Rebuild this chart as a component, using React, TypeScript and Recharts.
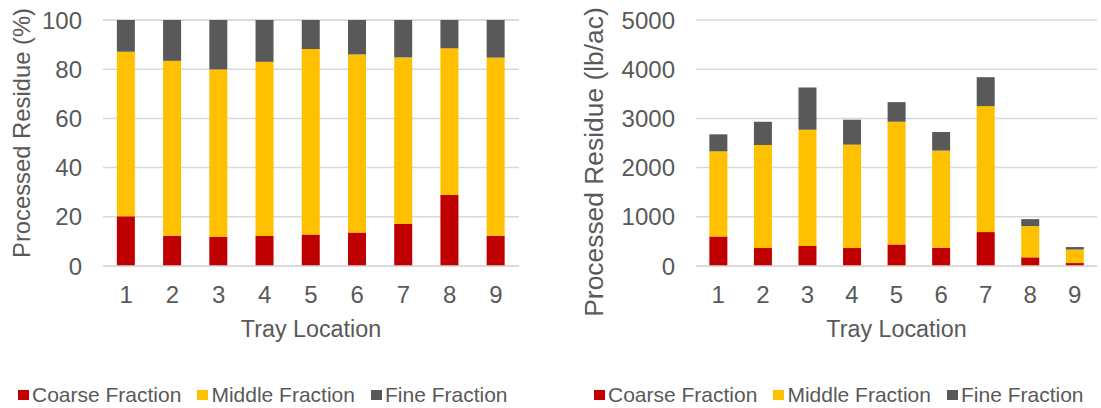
import { BarChart, Bar, XAxis, YAxis, CartesianGrid, Legend } from "recharts";

const trays = ["1", "2", "3", "4", "5", "6", "7", "8", "9"];

// share of each fraction (%)
const pctCoarse = [20.2, 12.3, 11.8, 12.2, 12.8, 13.6, 17.1, 28.9, 12.3];
const pctMiddle = [66.9, 71.1, 68.1, 70.8, 75.4, 72.4, 67.7, 59.6, 72.4];
const pctFine = [12.9, 16.6, 20.1, 17.0, 11.8, 14.0, 15.2, 11.5, 15.3];

// mass of each fraction (lb/ac)
const lbCoarse = [601, 365, 405, 365, 439, 372, 689, 176, 60];
const lbMiddle = [1730, 2094, 2365, 2101, 2493, 1973, 2561, 635, 275];
const lbFine = [345, 473, 858, 507, 399, 378, 588, 142, 50];

const pctTicks = [0, 20, 40, 60, 80, 100];
const lbTicks = [0, 1000, 2000, 3000, 4000, 5000];

const FONT = "Arial, 'Liberation Sans', sans-serif";
const TEXT = "#595959";
const GRID = "#D9D9D9";

// legend / stacking order, bottom to top
const series = [
  { key: "coarse", name: "Coarse Fraction", color: "#C00000" },
  { key: "middle", name: "Middle Fraction", color: "#FFC000" },
  { key: "fine", name: "Fine Fraction", color: "#595959" },
];

const pctData = trays.map((tray, i) => ({
  tray,
  coarse: pctCoarse[i],
  middle: pctMiddle[i],
  fine: pctFine[i],
}));

const lbData = trays.map((tray, i) => ({
  tray,
  coarse: lbCoarse[i],
  middle: lbMiddle[i],
  fine: lbFine[i],
}));

const LegendRow = () => (
  <div
    style={{
      display: "flex",
      alignItems: "center",
      height: 26,
      fontFamily: FONT,
      fontSize: 21,
      color: TEXT,
      whiteSpace: "nowrap",
    }}
  >
    {series.map((s) => (
      <div key={s.key} style={{ display: "flex", alignItems: "center", marginRight: 16 }}>
        <span style={{ width: 11, height: 10, background: s.color, marginRight: 3, display: "inline-block" }} />
        <span>{s.name}</span>
      </div>
    ))}
  </div>
);

const xTitle = (props: any) => {
  const vb = props.viewBox;
  return (
    <text
      x={vb.x + vb.width / 2}
      y={vb.y + 71}
      textAnchor="middle"
      fill={TEXT}
      fontFamily={FONT}
      fontSize={23.3}
    >
      Tray Location
    </text>
  );
};

const yTitle = (text: string, baseX: number, shiftY: number, size: number) => (props: any) => {
  const vb = props.viewBox;
  const x = vb.x + baseX;
  const y = vb.y + vb.height / 2 + shiftY;
  return (
    <text
      x={x}
      y={y}
      transform={`rotate(-90, ${x}, ${y})`}
      textAnchor="middle"
      fill={TEXT}
      fontFamily={FONT}
      fontSize={size}
    >
      {text}
    </text>
  );
};

type PanelProps = {
  data: any[];
  width: number;
  yWidth: number;
  right: number;
  ticks: number[];
  title: string;
  titleX: number;
  titleShift: number;
  titleSize: number;
  legendLeft: number;
};

const Panel = (p: PanelProps) => (
  <BarChart
    width={p.width}
    height={408}
    data={p.data}
    margin={{ top: 20, right: p.right, bottom: 0, left: 0 }}
    barCategoryGap="30%"
  >
    <CartesianGrid vertical={false} stroke={GRID} strokeWidth={1.5} />
    <XAxis
      dataKey="tray"
      height={116}
      tickLine={false}
      tickSize={0}
      tickMargin={20}
      axisLine={{ stroke: GRID, strokeWidth: 1.5 }}
      tick={{ fill: TEXT, fontSize: 24, fontFamily: FONT }}
      label={{ content: xTitle }}
    />
    <YAxis
      width={p.yWidth}
      domain={[p.ticks[0], p.ticks[p.ticks.length - 1]]}
      ticks={p.ticks}
      axisLine={false}
      tickLine={false}
      tickSize={0}
      tickMargin={21}
      tick={{ fill: TEXT, fontSize: 24, fontFamily: FONT }}
      label={{ content: yTitle(p.title, p.titleX, p.titleShift, p.titleSize) }}
    />
    <Legend
      verticalAlign="bottom"
      height={26}
      wrapperStyle={{ left: p.legendLeft, bottom: 0, width: 540 }}
      content={<LegendRow />}
    />
    {series.map((s) => (
      <Bar
        key={s.key}
        dataKey={s.key}
        name={s.name}
        stackId="a"
        fill={s.color}
        isAnimationActive={false}
      />
    ))}
  </BarChart>
);

export default function App() {
  return (
    <div style={{ position: "absolute", left: 0, top: 0, width: 1101, height: 408, background: "#fff" }}>
      <div style={{ position: "absolute", left: 0, top: 0 }}>
        <Panel
          data={pctData}
          width={550}
          yWidth={103}
          right={31}
          ticks={pctTicks}
          title="Processed Residue (%)"
          titleX={30}
          titleShift={-10}
          titleSize={23.8}
          legendLeft={18}
        />
      </div>
      <div style={{ position: "absolute", left: 550, top: 0 }}>
        <Panel
          data={lbData}
          width={551}
          yWidth={146}
          right={4}
          ticks={lbTicks}
          title="Processed Residue (lb/ac)"
          titleX={53}
          titleShift={19}
          titleSize={26.4}
          legendLeft={44}
        />
      </div>
    </div>
  );
}
